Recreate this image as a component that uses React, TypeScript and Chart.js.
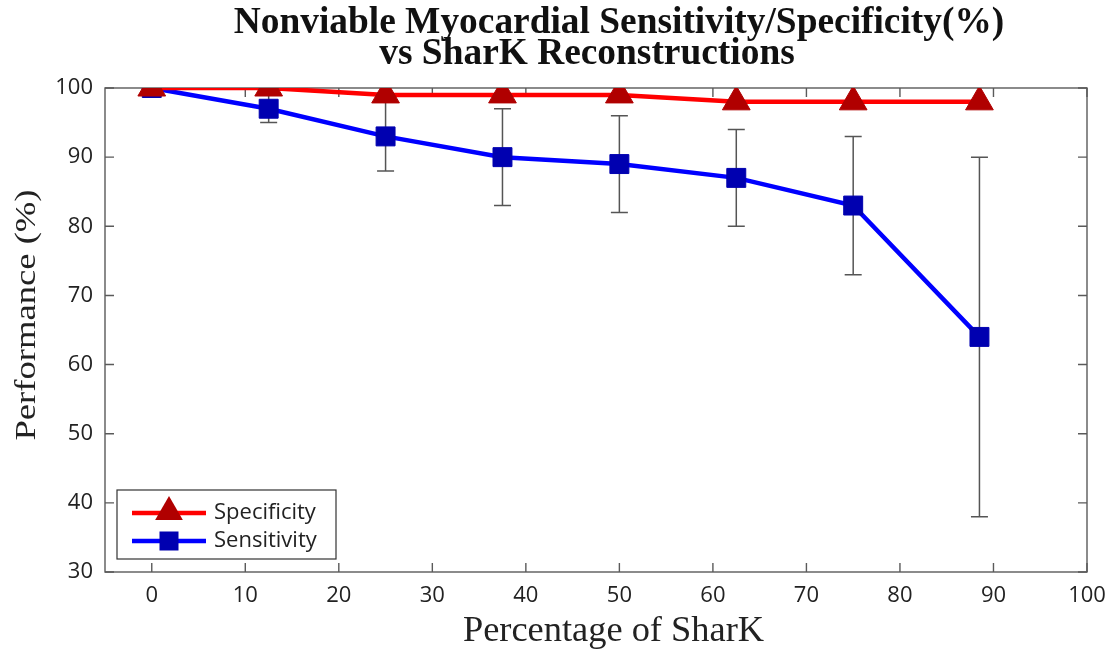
import React, { useEffect, useRef } from "react";
import { Chart, registerables } from "chart.js";

Chart.register(...registerables);

const titleLines = ["Nonviable Myocardial Sensitivity/Specificity(%)", "vs SharK Reconstructions"];
const xLabel = "Percentage of SharK";
const yLabel = "Performance (%)";

const xValues = [0, 12.5, 25, 37.5, 50, 62.5, 75, 88.5];
const specificity = [100, 100, 99, 99, 99, 98, 98, 98];
const sensitivity = [100, 97, 93, 90, 89, 87, 83, 64];
const sensLower = [100, 95, 88, 83, 82, 80, 73, 38];
const sensUpper = [100, 99, 98, 97, 96, 94, 93, 90];

const xTicks = [0, 10, 20, 30, 40, 50, 60, 70, 80, 90, 100];
const yTicks = [30, 40, 50, 60, 70, 80, 90, 100];

const legendItems = [
  { label: "Specificity", line: "#ff0000", marker: "#b00000", shape: "triangle" },
  { label: "Sensitivity", line: "#0000ff", marker: "#0000b0", shape: "square" },
];

const TICK_FONT = { family: "'Open Sans', 'DejaVu Sans', sans-serif", size: 22 };

function drawTriangle(ctx: CanvasRenderingContext2D, x: number, y: number, r: number, color: string) {
  ctx.beginPath();
  ctx.moveTo(x, y - r);
  ctx.lineTo(x + r * Math.sin((2 * Math.PI) / 3), y + r * 0.5);
  ctx.lineTo(x - r * Math.sin((2 * Math.PI) / 3), y + r * 0.5);
  ctx.closePath();
  ctx.fillStyle = color;
  ctx.fill();
}

function drawSquare(ctx: CanvasRenderingContext2D, x: number, y: number, s: number, color: string) {
  ctx.fillStyle = color;
  ctx.fillRect(x - s / 2, y - s / 2, s, s);
}

const boxPlugin = {
  id: "matlabBox",
  beforeDatasetsDraw(chart: any) {
    const { ctx, chartArea: a, scales } = chart;
    const xs = scales.x;
    const ys = scales.y;
    ctx.save();
    // error bars (sensitivity)
    ctx.strokeStyle = "#555555";
    ctx.lineWidth = 1.5;
    xValues.forEach((xv, i) => {
      if (sensLower[i] === sensUpper[i]) return;
      const px = xs.getPixelForValue(xv);
      const pLo = ys.getPixelForValue(sensLower[i]);
      const pHi = ys.getPixelForValue(sensUpper[i]);
      ctx.beginPath();
      ctx.moveTo(px, pLo);
      ctx.lineTo(px, pHi);
      ctx.moveTo(px - 8.5, pLo);
      ctx.lineTo(px + 8.5, pLo);
      ctx.moveTo(px - 8.5, pHi);
      ctx.lineTo(px + 8.5, pHi);
      ctx.stroke();
    });
    // box
    ctx.strokeStyle = "#5a5a5a";
    ctx.lineWidth = 1.4;
    ctx.strokeRect(a.left, a.top, a.right - a.left, a.bottom - a.top);
    const tl = 9;
    ctx.beginPath();
    xTicks.forEach((v) => {
      const px = xs.getPixelForValue(v);
      ctx.moveTo(px, a.bottom);
      ctx.lineTo(px, a.bottom - tl);
      ctx.moveTo(px, a.top);
      ctx.lineTo(px, a.top + tl);
    });
    yTicks.forEach((v) => {
      const py = ys.getPixelForValue(v);
      ctx.moveTo(a.left, py);
      ctx.lineTo(a.left + tl, py);
      ctx.moveTo(a.right, py);
      ctx.lineTo(a.right - tl, py);
    });
    ctx.stroke();
    ctx.restore();
  },
  afterDraw(chart: any) {
    const { ctx, chartArea: a } = chart;
    ctx.save();
    // chart title
    ctx.fillStyle = "#111111";
    ctx.font = "bold 37.4px 'Liberation Serif', 'Times New Roman', serif";
    ctx.textAlign = "center";
    ctx.textBaseline = "alphabetic";
    ctx.fillText(titleLines[0], 619, 33);
    ctx.fillText(titleLines[1], 587, 64);

    // axis titles
    ctx.fillStyle = "#222222";
    ctx.font = "36.4px 'Liberation Serif', 'Times New Roman', serif";
    ctx.fillText(xLabel, 613.5, 641);

    ctx.save();
    ctx.translate(35, 315);
    ctx.rotate(-Math.PI / 2);
    ctx.scale(1.22, 1);
    ctx.font = "30px 'Liberation Serif', 'Times New Roman', serif";
    ctx.textAlign = "center";
    ctx.textBaseline = "alphabetic";
    ctx.fillText(yLabel, 0, 0);
    ctx.restore();

    // legend
    const lx = a.left + 12;
    const ly = 490;
    const lw = 219;
    const lh = 69;
    ctx.fillStyle = "#ffffff";
    ctx.fillRect(lx, ly, lw, lh);
    ctx.strokeStyle = "#333333";
    ctx.lineWidth = 1.2;
    ctx.strokeRect(lx, ly, lw, lh);
    legendItems.forEach((it, i) => {
      const cy = ly + 23 + i * 28;
      ctx.strokeStyle = it.line;
      ctx.lineWidth = 4.5;
      ctx.beginPath();
      ctx.moveTo(lx + 15, cy);
      ctx.lineTo(lx + 89, cy);
      ctx.stroke();
      if (it.shape === "triangle") drawTriangle(ctx, lx + 52, cy - 1, 16, it.marker);
      else drawSquare(ctx, lx + 52, cy, 19, it.marker);
      ctx.fillStyle = "#222222";
      ctx.font = "22px 'Open Sans', 'DejaVu Sans', sans-serif";
      ctx.textAlign = "left";
      ctx.textBaseline = "middle";
      ctx.fillText(it.label, lx + 97, cy);
    });
    ctx.restore();
  },
};

export default function App() {
  const canvasRef = useRef<HTMLCanvasElement | null>(null);

  useEffect(() => {
    if (!canvasRef.current) return;
    const chart = new Chart(canvasRef.current, {
      type: "line",
      data: {
        datasets: [
          {
            label: "Specificity",
            data: xValues.map((x, i) => ({ x, y: specificity[i] })),
            borderColor: "#ff0000",
            borderWidth: 4.5,
            backgroundColor: "#b00000",
            pointStyle: "triangle",
            pointRadius: 16,
            pointBackgroundColor: "#b00000",
            pointBorderColor: "#b00000",
            pointBorderWidth: 1,
            tension: 0,
          },
          {
            label: "Sensitivity",
            data: xValues.map((x, i) => ({ x, y: sensitivity[i] })),
            borderColor: "#0000ff",
            borderWidth: 4.5,
            backgroundColor: "#0000b0",
            pointStyle: "rect",
            pointRadius: 13.4,
            pointBackgroundColor: "#0000b0",
            pointBorderColor: "#0000b0",
            pointBorderWidth: 1,
            tension: 0,
          },
        ],
      },
      options: {
        animation: false,
        responsive: true,
        maintainAspectRatio: false,
        layout: { padding: { left: 0, right: 25, top: 88, bottom: 0 } },
        plugins: {
          legend: { display: false },
          tooltip: { enabled: false },
          title: { display: false },
        },
        scales: {
          x: {
            type: "linear",
            min: -5,
            max: 100,
            afterBuildTicks: (s: any) => {
              s.ticks = xTicks.map((v) => ({ value: v }));
            },
            afterFit: (s: any) => {
              s.height = 80;
              s.paddingLeft = 0;
              s.paddingRight = 0;
            },
            grid: { display: false, drawTicks: false },
            border: { display: false },
            ticks: { font: TICK_FONT, color: "#222222", padding: 11, maxRotation: 0 },
          },
          y: {
            type: "linear",
            min: 30,
            max: 100,
            afterBuildTicks: (s: any) => {
              s.ticks = yTicks.map((v) => ({ value: v }));
            },
            afterFit: (s: any) => {
              s.width = 105;
              s.paddingTop = 0;
              s.paddingBottom = 0;
            },
            grid: { display: false, drawTicks: false },
            border: { display: false },
            ticks: { font: TICK_FONT, color: "#222222", padding: 12 },
          },
        },
      },
      plugins: [boxPlugin],
    });
    return () => chart.destroy();
  }, []);

  return (
    <div style={{ position: "fixed", left: 0, top: 0, width: 1112, height: 652, background: "#ffffff" }}>
      <canvas ref={canvasRef} />
    </div>
  );
}
